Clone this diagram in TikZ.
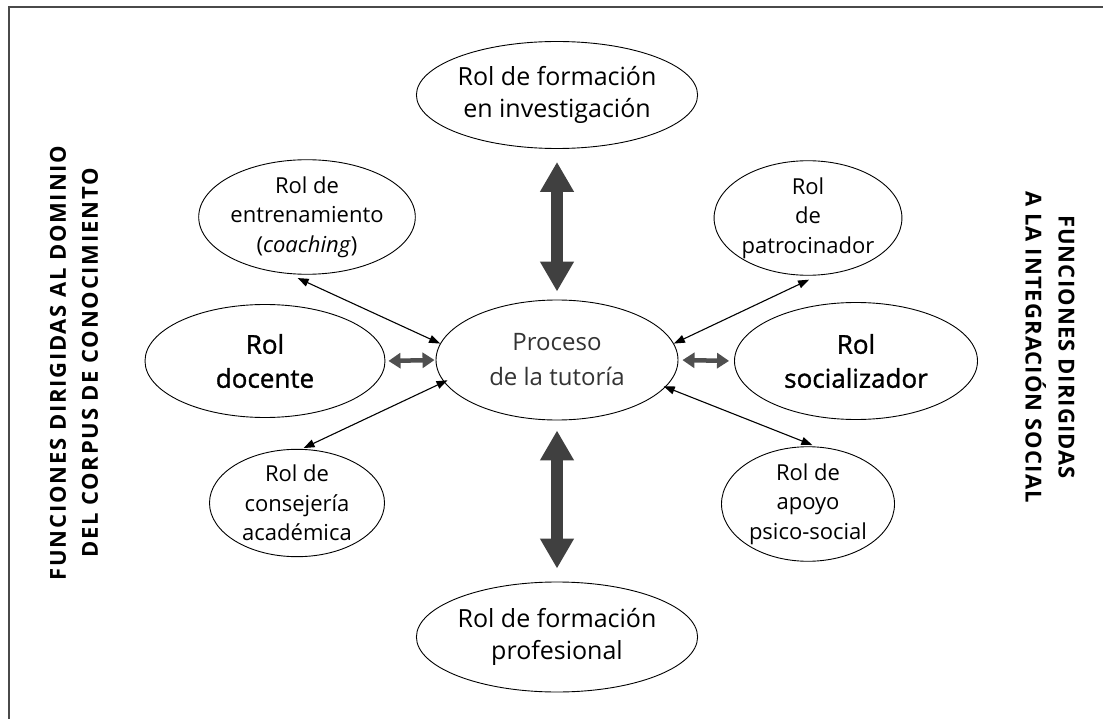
\documentclass[tikz,border=0pt]{standalone}
\usepackage{fontspec}
\setmainfont{Open Sans}
\newfontfamily\semib{Open Sans}[FakeBold=1.2]
\newfontfamily\sidefontL{Open Sans}[LetterSpace=8]
\newfontfamily\sidefontR{Open Sans}[LetterSpace=5]
\usetikzlibrary{shapes.geometric,arrows.meta}
\definecolor{arrowgray}{HTML}{404040}
\definecolor{midgray}{HTML}{4F4F4F}
\definecolor{framegray}{HTML}{4A4A4A}
\begin{document}
\begin{tikzpicture}[x=1pt,y=-1pt,
  ell/.style={draw, ellipse, line width=0.9pt, inner sep=0pt, align=center, text=black},
  bigell/.style={ell, font=\fontsize{25}{32}\selectfont},
  boldell/.style={ell, font=\semib\fontsize{26}{34}\selectfont},
  smallell/.style={ell, font=\fontsize{22}{29.5}\selectfont},
  procell/.style={ell, font=\fontsize{24}{35}\selectfont, text=black!80},
  fatarrow/.style={draw=arrowgray, line width=12pt, {Triangle[width=32pt,length=30pt]}-{Triangle[width=32pt,length=30pt]}},
  medarrow/.style={draw=midgray, line width=4.5pt, {Triangle[width=15pt,length=12pt]}-{Triangle[width=15pt,length=12pt]}},
  thinarrow/.style={draw=black, line width=1.1pt, {Triangle[width=8pt,length=11pt]}-{Triangle[width=8pt,length=11pt]}},
  sidelabelL/.style={align=center, font=\sidefontL\bfseries\fontsize{22}{32}\selectfont},
  sidelabelR/.style={align=center, font=\sidefontR\bfseries\fontsize{22}{33}\selectfont}
]
\useasboundingbox (0,0) rectangle (1103,719);
\draw[framegray, line width=2pt] (8.5,719) -- (8.5,7) -- (1103,7);

\node[procell, minimum width=242pt, minimum height=120pt] (proc) at (557,360) {Proceso\\de la tutoría};
\node[bigell, minimum width=242pt, minimum height=107pt] (inv) at (557,95) {Rol de formación\\en investigación};
\node[bigell, minimum width=243pt, minimum height=110pt] (prof) at (557,637) {Rol de formación\\profesional};
\node[boldell, minimum width=240pt, minimum height=113pt] (doc) at (265,361) {Rol\\docente};
\node[boldell, minimum width=243pt, minimum height=117pt] (soc) at (856,361) {Rol\\socializador};
\node[smallell, minimum width=180pt, minimum height=106pt] (coach) at (307,217) {Rol de\\entrenamiento\\(\textit{coaching})};
\node[smallell, minimum width=173pt, minimum height=104pt] (patro) at (808,218) {Rol\\de\\patrocinador};
\node[smallell, minimum width=175pt, minimum height=107pt] (cons) at (297,503) {Rol de\\consejería\\académica};
\node[smallell, minimum width=173pt, minimum height=108pt] (apoyo) at (808,504) {Rol de\\apoyo\\psico-social};

\draw[fatarrow, shorten <=13pt, shorten >=8pt] (inv.south) -- (proc.north);
\draw[fatarrow, shorten <=10pt, shorten >=13pt] (proc.south) -- (prof.north);
\draw[medarrow, shorten <=3pt, shorten >=1pt] (doc.east) -- (proc.west);
\draw[medarrow, shorten <=4pt, shorten >=5pt] (proc.east) -- (soc.west);
\draw[thinarrow, shorten <=10pt] (coach.-108) -- (proc.172);
\draw[thinarrow, shorten <=2pt, shorten >=-4pt] (cons.85) -- (proc.191);
\draw[thinarrow, shorten <=10pt] (patro.-80) -- (proc.8);
\draw[thinarrow, shorten <=4pt, shorten >=-2pt] (apoyo.82) -- (proc.-14);

\node[sidelabelL, rotate=90] (leftlab) at (74,363) {FUNCIONES DIRIGIDAS AL DOMINIO\\DEL CORPUS DE CONOCIMIENTO};
\node[sidelabelR, rotate=-90] (rightlab) at (1050,347) {FUNCIONES DIRIGIDAS\\A LA INTEGRACIÓN SOCIAL};
\end{tikzpicture}
\end{document}
